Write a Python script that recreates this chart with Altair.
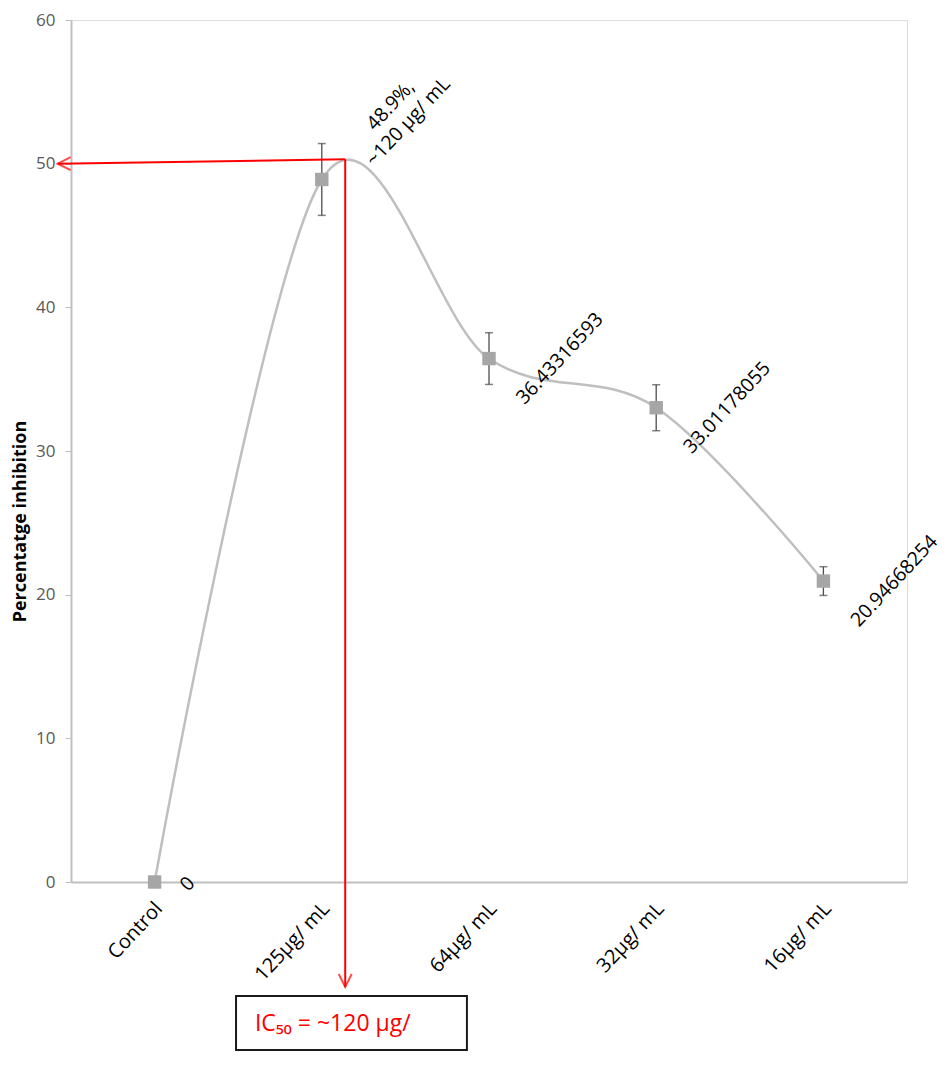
import math
import altair as alt
import pandas as pd

# ---- data ----
categories = ["Control", "125µg/ mL", "64µg/ mL", "32µg/ mL", "16µg/ mL"]
positions = [0, 1, 2, 3, 4]
inhibition = [0, 48.9, 36.43316593, 33.01178055, 20.94668254]
error = [0, 2.5, 1.8, 1.6, 1.0]
value_labels = ["0", "48.9%,\n~120 µg/ mL", "36.43316593", "33.01178055", "20.94668254"]
y_ticks = [0, 10, 20, 30, 40, 50, 60]

# IC50 annotation (data units)
ic50_x = 1.14
ic50_y = 50.3
arrow_left_x = -0.58
arrow_left_y = 50.0
arrow_down_y = -7.31
box_x = [0.487, 1.868]
box_y = [-7.93, -11.69]
box_text = "IC₅₀ = ~120 µg/"
box_text_pos = [0.60, -10.37]

df = pd.DataFrame({
    "pos": positions,
    "cat": categories,
    "val": inhibition,
    "err": error,
    "label": value_labels,
})
df["lo"] = df["val"] - df["err"]
df["hi"] = df["val"] + df["err"]

FONT = "Open Sans"
ANGLE = 313  # = -47 degrees
label_expr = "[" + ",".join("'" + c + "'" for c in categories) + "][datum.value]"


def rot_offset(sx, sy, angle=ANGLE):
    """Convert a screen offset into the rotated text frame used by dx/dy."""
    a = math.radians(angle)
    return (sx * math.cos(a) + sy * math.sin(a), -sx * math.sin(a) + sy * math.cos(a))


x_scale = alt.Scale(domain=[-0.5, 4.5], nice=False, zero=False)
y_scale = alt.Scale(domain=[0, 60], nice=False)

x_enc = alt.X(
    "pos:Q",
    scale=x_scale,
    axis=alt.Axis(
        values=positions, labelExpr=label_expr, title=None, grid=False,
        ticks=False, tickSize=0, domainColor="#bfbfbf", domainWidth=2,
        labelAngle=ANGLE, labelAlign="right", labelBaseline="middle",
        labelPadding=23, labelOffset=4, labelFont=FONT, labelFontSize=20,
        labelColor="#000000", labelOverlap=False,
    ),
)
y_enc = alt.Y(
    "val:Q",
    scale=y_scale,
    axis=alt.Axis(
        values=y_ticks, grid=False, tickSize=6, tickColor="#bfbfbf",
        domainColor="#bfbfbf", domainWidth=2, labelColor="#595959",
        labelFont=FONT, labelFontSize=17, labelPadding=10,
        title="Percentatge inhibition", titleFont=FONT, titleFontSize=18,
        titleFontWeight="bold", titleColor="#000000", titleAngle=270,
        titleX=-51, titleY=501, titleAlign="center", titleBaseline="middle",
    ),
)

base = alt.Chart(df)

line = base.mark_line(interpolate="cardinal", color="#bfbfbf", strokeWidth=2.5).encode(
    x=x_enc, y=y_enc
)

err_df = base.transform_filter("datum.err > 0")
err_rule = err_df.mark_rule(color="#4d4d4d", strokeWidth=1.3).encode(
    x="pos:Q", y="lo:Q", y2="hi:Q"
)
cap_lo = err_df.mark_point(shape="stroke", size=64, color="#4d4d4d", strokeWidth=1.5).encode(
    x="pos:Q", y="lo:Q"
)
cap_hi = err_df.mark_point(shape="stroke", size=64, color="#4d4d4d", strokeWidth=1.5).encode(
    x="pos:Q", y="hi:Q"
)

squares = base.mark_square(size=180, color="#a6a6a6", opacity=1).encode(
    x="pos:Q", y="val:Q"
)

lbl_common = dict(font=FONT, fontSize=19.5, angle=ANGLE, align="center",
                  baseline="middle", color="#000000", lineBreak="\n")
dx_m, dy_m = rot_offset(71, 0)
dx_z, dy_z = rot_offset(33, 2)
dx_p, dy_p = rot_offset(69, -74)
labels_main = base.transform_filter("datum.pos >= 2").mark_text(dx=dx_m, dy=dy_m, **lbl_common).encode(
    x="pos:Q", y="val:Q", text="label:N"
)
label_zero = base.transform_filter("datum.pos == 0").mark_text(dx=dx_z, dy=dy_z, **lbl_common).encode(
    x="pos:Q", y="val:Q", text="label:N"
)
label_peak = base.transform_filter("datum.pos == 1").mark_text(dx=dx_p, dy=dy_p, lineHeight=24, **lbl_common).encode(
    x="pos:Q", y="val:Q", text="label:N"
)

ann = pd.DataFrame({
    "x": [ic50_x, ic50_x],
    "y": [ic50_y, ic50_y],
    "x2": [arrow_left_x, ic50_x],
    "y2": [arrow_left_y, arrow_down_y],
})
red_lines = alt.Chart(ann).mark_rule(color="#ff0000", strokeWidth=2).encode(
    x=alt.X("x:Q", scale=x_scale), y=alt.Y("y:Q", scale=y_scale), x2="x2:Q", y2="y2:Q"
)
head_left = alt.Chart(pd.DataFrame({"x": [arrow_left_x], "y": [arrow_left_y]})).mark_point(
    shape="M2,-1L0,0L2,1", size=169, filled=False, color="#ff0000", strokeWidth=2
).encode(x=alt.X("x:Q", scale=x_scale), y=alt.Y("y:Q", scale=y_scale))
head_down = alt.Chart(pd.DataFrame({"x": [ic50_x], "y": [arrow_down_y]})).mark_point(
    shape="M-1,-2L0,0L1,-2", size=169, filled=False, color="#ff0000", strokeWidth=2
).encode(x=alt.X("x:Q", scale=x_scale), y=alt.Y("y:Q", scale=y_scale))

box = alt.Chart(pd.DataFrame({"x": [box_x[0]], "x2": [box_x[1]], "y": [box_y[0]], "y2": [box_y[1]]})).mark_rect(
    fill="#ffffff", stroke="#1a1a1a", strokeWidth=2
).encode(x=alt.X("x:Q", scale=x_scale), x2="x2:Q", y=alt.Y("y:Q", scale=y_scale), y2="y2:Q")
box_label = alt.Chart(pd.DataFrame({"x": [box_text_pos[0]], "y": [box_text_pos[1]], "t": [box_text]})).mark_text(
    font=FONT, fontSize=23, color="#ff0000", align="left", baseline="alphabetic"
).encode(x=alt.X("x:Q", scale=x_scale), y=alt.Y("y:Q", scale=y_scale), text="t:N")

chart = alt.layer(
    line, err_rule, cap_lo, cap_hi, squares, labels_main, label_zero, label_peak,
    red_lines, head_left, head_down, box, box_label,
).properties(
    width=836, height=862,
    autosize=alt.AutoSizeParams(type="none"),
    padding={"left": 63, "top": 12, "right": 35, "bottom": 170},
).configure_view(stroke=None).configure(background="#ffffff")

chart.save("out.html", embed_options={"renderer": "svg", "actions": False})
